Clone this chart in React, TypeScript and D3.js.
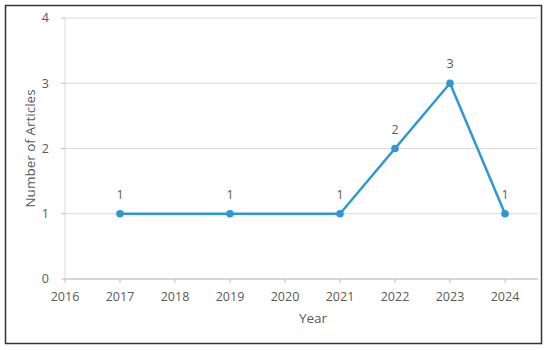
import * as d3 from "d3";

// data
const years = [2017, 2019, 2021, 2022, 2023, 2024];
const articles = [1, 1, 1, 2, 3, 1];
const xTicks = [2016, 2017, 2018, 2019, 2020, 2021, 2022, 2023, 2024];
const yTicks = [0, 1, 2, 3, 4];

const W = 550;
const H = 350;

export default function App() {
  // plot area
  const left = 65;
  const right = 538;
  const top = 18;
  const bottom = 279;

  const x = d3.scaleLinear().domain([2016, 2024]).range([left, 505]);
  const y = d3.scaleLinear().domain([0, 4]).range([bottom, top]);

  const pts = years.map((yr, i) => ({ yr, v: articles[i] }));
  const line = d3
    .line<{ yr: number; v: number }>()
    .x((d) => x(d.yr))
    .y((d) => y(d.v));

  const txt = "#595959";
  const font = "'Open Sans', 'Noto Sans', sans-serif";
  const blue = "#2e97d4";

  return (
    <svg
      width={W}
      height={H}
      style={{ position: "absolute", left: 0, top: 0, background: "#fff" }}
      fontFamily={font}
    >
      <rect x={5.5} y={5.5} width={536} height={338} fill="#fff" stroke="#333" strokeWidth={1.5} />

      {/* gridlines */}
      {yTicks.map((t) => (
        <line key={"g" + t} x1={left} x2={right} y1={y(t)} y2={y(t)} stroke="#d9d9d9" strokeWidth={1} />
      ))}

      {/* axes */}
      <line x1={left} x2={left} y1={top} y2={bottom} stroke="#d9d9d9" />
      <line x1={left} x2={right} y1={bottom} y2={bottom} stroke="#bfbfbf" />

      {yTicks.map((t) => (
        <g key={"y" + t}>
          <line x1={left - 4} x2={left} y1={y(t)} y2={y(t)} stroke="#bfbfbf" />
          <text x={left - 16} y={y(t)} dy="0.35em" textAnchor="end" fontSize={12.5} fill={txt}>
            {t}
          </text>
        </g>
      ))}

      {xTicks.map((t) => (
        <g key={"x" + t}>
          <line x1={x(t)} x2={x(t)} y1={bottom} y2={bottom + 4} stroke="#bfbfbf" />
          <text x={x(t)} y={bottom + 18} dy="0.35em" textAnchor="middle" fontSize={12.5} fill={txt}>
            {t}
          </text>
        </g>
      ))}

      <text x={313} y={323} textAnchor="middle" fontSize={13.5} fill={txt}>
        Year
      </text>
      <text
        transform={`translate(35,${(top + bottom) / 2}) rotate(-90)`}
        textAnchor="middle"
        fontSize={13.5}
        fill={txt}
      >
        Number of Articles
      </text>

      <path d={line(pts) || ""} fill="none" stroke={blue} strokeWidth={2.5} strokeLinejoin="round" />
      {pts.map((d) => (
        <g key={"p" + d.yr}>
          <circle cx={x(d.yr)} cy={y(d.v)} r={3.8} fill={blue} />
          <text x={x(d.yr)} y={y(d.v) - 15} textAnchor="middle" fontSize={12.5} fill={txt}>
            {d.v}
          </text>
        </g>
      ))}
    </svg>
  );
}
